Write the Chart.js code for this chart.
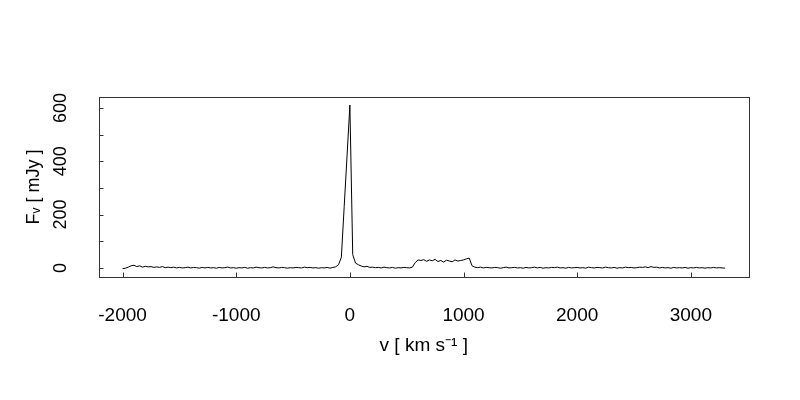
<!DOCTYPE html>
<html>
<head>
<meta charset="utf-8">
<script src="https://cdn.jsdelivr.net/npm/chart.js@4.4.0/dist/chart.umd.min.js"></script>
<style>
  html, body { margin: 0; padding: 0; background: #fff; }
  #wrap { width: 800px; height: 400px; }
</style>
</head>
<body>
<div id="wrap"><canvas id="spec" width="800" height="400"></canvas></div>
<script>
// spectrum: velocity channels (km/s) and flux density (mJy)
const velocity = [
  -2000, -1975, -1950, -1925, -1900, -1875, -1850, -1825, -1800, -1775,
  -1750, -1725, -1700, -1675, -1650, -1625, -1600, -1575, -1550, -1525,
  -1500, -1475, -1450, -1425, -1400, -1375, -1350, -1325, -1300, -1275,
  -1250, -1225, -1200, -1175, -1150, -1125, -1100, -1075, -1050, -1025,
  -1000, -975, -950, -925, -900, -875, -850, -825, -800, -775,
  -750, -725, -700, -675, -650, -625, -600, -575, -550, -525,
  -500, -475, -450, -425, -400, -375, -350, -325, -300, -275,
  -250, -225, -200, -175, -150, -125, -100, -75, -50, -25,
  0, 25, 50, 75, 100, 125, 150, 175, 200, 225,
  250, 275, 300, 325, 350, 375, 400, 425, 450, 475,
  500, 525, 550, 575, 600, 625, 650, 675, 700, 725,
  750, 775, 800, 825, 850, 875, 900, 925, 950, 975,
  1000, 1025, 1050, 1075, 1100, 1125, 1150, 1175, 1200, 1225,
  1250, 1275, 1300, 1325, 1350, 1375, 1400, 1425, 1450, 1475,
  1500, 1525, 1550, 1575, 1600, 1625, 1650, 1675, 1700, 1725,
  1750, 1775, 1800, 1825, 1850, 1875, 1900, 1925, 1950, 1975,
  2000, 2025, 2050, 2075, 2100, 2125, 2150, 2175, 2200, 2225,
  2250, 2275, 2300, 2325, 2350, 2375, 2400, 2425, 2450, 2475,
  2500, 2525, 2550, 2575, 2600, 2625, 2650, 2675, 2700, 2725,
  2750, 2775, 2800, 2825, 2850, 2875, 2900, 2925, 2950, 2975,
  3000, 3025, 3050, 3075, 3100, 3125, 3150, 3175, 3200, 3225,
  3250, 3275, 3300
];
const flux = [
  -3, -1, 3, 8, 10, 5, 8, 3, 6, 4,
  5, 2, 4, 2, 5, 1, 3, 1, 3, 0,
  2, 0, 1, 3, 0, 2, 1, -1, 2, 0,
  2, 0, 1, -1, 2, 0, 1, 3, 0, 1,
  -1, 1, 0, 2, -1, 1, 0, 3, 1, 0,
  2, 0, 1, 4, 1, 0, 2, 1, -1, 1,
  0, 2, 1, 0, 3, 1, 2, 0, 1, -1,
  1, 0, 2, -1, 2, 4, 12, 40, 230, 420,
  611, 50, 18, 12, 7, 4, 6, 2, 3, 1,
  2, 0, 3, 1, 0, 2, -1, 1, 0, 2,
  1, 0, 3, 20, 30, 28, 31, 25, 30, 27,
  32, 24, 28, 22, 29, 26, 23, 30, 26, 28,
  30, 34, 37, 8, 3, 1, 3, 0, 2, 1,
  0, 2, 1, -1, 1, 3, 0, 1, 2, 0,
  1, -1, 2, 0, 1, 3, 0, 2, -1, 1,
  0, 2, 1, 3, 0, 1, -1, 2, 0, 1,
  2, 0, 1, -1, 3, 1, 0, 2, 1, 0,
  3, 1, 0, 2, -1, 1, 0, 3, 1, 2,
  0, 1, 3, 2, 4, 1, 5, 2, 3, 0,
  2, 0, 1, -1, 2, 0, 1, 0, 2, -1,
  1, 0, 2, 0, 1, -1, 1, 0, 2, 0,
  1, 0, -1
];

const xTicks = [-2000, -1000, 0, 1000, 2000, 3000];
const yTicks = [0, 200, 400, 600];
const yMinorTicks = [100, 300, 500];
const xRange = [-2212, 3512];
const yRange = [-34, 641];

const FONT = 'Liberation Sans, Arial, Helvetica, sans-serif';

// box round the plot and inward tick marks, R style
const boxPlugin = {
    id: 'box',
    afterDraw(chart) {
        const { ctx, chartArea: a, scales } = chart;
        const l = Math.round(a.left) + 0.5, r = Math.round(a.right) + 0.5;
        const t = Math.round(a.top) + 0.5, b = Math.round(a.bottom) + 0.5;
        ctx.save();
        ctx.strokeStyle = '#333';
        ctx.lineWidth = 1;
        ctx.strokeRect(l, t, r - l, b - t);
        ctx.beginPath();
        xTicks.forEach(v => {
            const px = Math.round(scales.x.getPixelForValue(v)) + 0.5;
            ctx.moveTo(px, b);
            ctx.lineTo(px, b - 5);
        });
        [...yTicks, ...yMinorTicks].forEach(v => {
            const py = Math.round(scales.y.getPixelForValue(v)) + 0.5;
            ctx.moveTo(l, py);
            ctx.lineTo(l + 4, py);
        });
        ctx.stroke();
        ctx.restore();
    }
};

const ctx = document.getElementById('spec').getContext('2d');
new Chart(ctx, {
    type: 'line',
    data: {
        datasets: [{
            data: velocity.map((v, i) => ({ x: v, y: flux[i] })),
            borderColor: '#000',
            borderWidth: 1,
            pointRadius: 0,
            tension: 0,
            fill: false
        }]
    },
    options: {
        responsive: false,
        animation: false,
        events: [],
        layout: { padding: { top: 97, right: 51, left: 0, bottom: 0 } },
        plugins: {
            legend: { display: false },
            tooltip: { enabled: false }
        },
        scales: {
            x: {
                type: 'linear',
                min: xRange[0],
                max: xRange[1],
                afterBuildTicks: s => { s.ticks = xTicks.map(v => ({ value: v })); },
                afterFit: s => { s.height = 123; },
                grid: { display: false, drawTicks: false },
                border: { display: false },
                ticks: {
                    padding: 27,
                    maxRotation: 0,
                    autoSkip: false,
                    color: '#000',
                    font: { family: FONT, size: 19 },
                    callback: v => String(v)
                },
                title: {
                    display: true,
                    text: 'v [ km s\u207B\u00B9 ]',
                    color: '#000',
                    font: { family: FONT, size: 19 },
                    padding: { top: 0, bottom: 43 }
                }
            },
            y: {
                type: 'linear',
                min: yRange[0],
                max: yRange[1],
                afterBuildTicks: s => { s.ticks = yTicks.map(v => ({ value: v })); },
                afterFit: s => { s.width = 98.5; },
                grid: { display: false, drawTicks: false },
                border: { display: false },
                ticks: {
                    padding: 22,
                    minRotation: 90,
                    maxRotation: 90,
                    crossAlign: 'center',
                    autoSkip: false,
                    color: '#000',
                    font: { family: FONT, size: 18 },
                    callback: v => String(v)
                },
                title: {
                    display: true,
                    text: 'F\u1D65 [ mJy ]',
                    color: '#000',
                    font: { family: FONT, size: 18 },
                    padding: { top: 23, bottom: 0 }
                }
            }
        }
    },
    plugins: [boxPlugin]
});
</script>
</body>
</html>
